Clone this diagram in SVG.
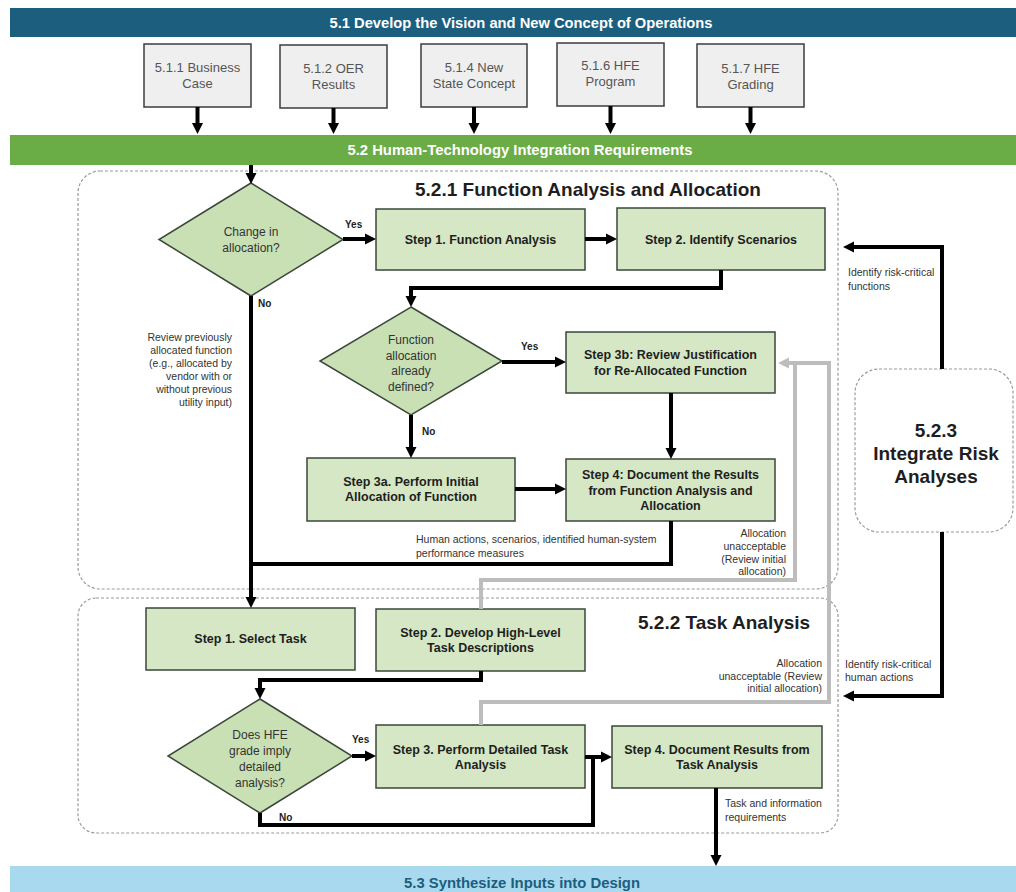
<svg xmlns="http://www.w3.org/2000/svg" width="1016" height="892" viewBox="0 0 1016 892">
<style>
.bar{font-family:"Liberation Sans",Arial,sans-serif;font-weight:bold;font-size:15px;text-anchor:middle}
.top{fill:#efefef;stroke:#3c3c3c;stroke-width:1.5}
.toptxt{font-family:"Liberation Sans",Arial,sans-serif;font-size:13px;fill:#555;text-anchor:middle}
.box{fill:#d5e7c5;stroke:#3a473a;stroke-width:1.5}
.dia{fill:#c9e0b5;stroke:#3a473a;stroke-width:1.5}
.bt{font-family:"Liberation Sans",Arial,sans-serif;font-weight:bold;font-size:12.5px;fill:#1e1e1e;text-anchor:middle}
.dt{font-family:"Liberation Sans",Arial,sans-serif;font-size:12px;fill:#333;text-anchor:middle}
.lbl{font-family:"Liberation Sans",Arial,sans-serif;font-weight:bold;font-size:10px;fill:#222}
.sm{font-family:"Liberation Sans",Arial,sans-serif;font-size:10.5px;fill:#333}
.r{text-anchor:end}
.title{font-family:"Liberation Sans",Arial,sans-serif;font-weight:bold;font-size:19px;fill:#1e1e1e}
.cont{fill:none;stroke:#9a9a9a;stroke-width:1.2;stroke-dasharray:3 2}
.k{fill:none;stroke:#000;stroke-width:4}
.g{fill:none;stroke:#bdbdbd;stroke-width:4}
</style>
<defs>
<marker id="ah" viewBox="0 0 10 10" refX="0" refY="5" markerWidth="11" markerHeight="12" markerUnits="userSpaceOnUse" orient="auto"><path d="M0,0 L10,5 L0,10 z" fill="#000"/></marker>
<marker id="ahg" viewBox="0 0 10 10" refX="0" refY="5" markerWidth="11" markerHeight="12" markerUnits="userSpaceOnUse" orient="auto"><path d="M0,0 L10,5 L0,10 z" fill="#bdbdbd"/></marker>
</defs>
<rect width="1016" height="892" fill="#fff"/>

<g id="bar51">
<rect x="10" y="8" width="1006" height="29" fill="#1b5e7e"/>
<text class="bar" x="521" y="28" fill="#fff" textLength="383" lengthAdjust="spacingAndGlyphs">5.1 Develop the Vision and New Concept of Operations</text>
</g>
<g id="n511"><rect class="top" x="144" y="44" width="107" height="63"/><text class="toptxt" x="197.5" y="72">5.1.1 Business</text><text class="toptxt" x="197.5" y="88">Case</text></g>
<g id="n512"><rect class="top" x="280" y="45" width="107" height="63"/><text class="toptxt" x="333.5" y="73">5.1.2 OER</text><text class="toptxt" x="333.5" y="89">Results</text></g>
<g id="n514"><rect class="top" x="421" y="44" width="106" height="63"/><text class="toptxt" x="474" y="72">5.1.4 New</text><text class="toptxt" x="474" y="88">State Concept</text></g>
<g id="n516"><rect class="top" x="557" y="43" width="107" height="63"/><text class="toptxt" x="610.5" y="70">5.1.6 HFE</text><text class="toptxt" x="610.5" y="86">Program</text></g>
<g id="n517"><rect class="top" x="697" y="44" width="107" height="63"/><text class="toptxt" x="750.5" y="73">5.1.7 HFE</text><text class="toptxt" x="750.5" y="89">Grading</text></g>

<g id="bar52">
<rect x="10" y="135" width="1006" height="30" fill="#6aac45"/>
<text class="bar" x="520" y="155" fill="#fff" textLength="345" lengthAdjust="spacingAndGlyphs">5.2 Human-Technology Integration Requirements</text>
</g>

<g id="c521"><rect class="cont" x="78" y="171" width="760" height="418" rx="22"/>
<text class="title" x="415" y="196">5.2.1 Function Analysis and Allocation</text></g>
<g id="c522"><rect class="cont" x="78" y="598" width="760" height="235" rx="18"/>
<text class="title" x="638" y="629">5.2.2 Task Analysis</text></g>
<g id="n523"><rect class="cont" x="855" y="369" width="158" height="163" rx="24"/>
<text class="title" x="936" y="437" text-anchor="middle">5.2.3</text>
<text class="title" x="936" y="460" text-anchor="middle">Integrate Risk</text>
<text class="title" x="936" y="483" text-anchor="middle">Analyses</text></g>

<g id="d1"><polygon class="dia" points="251,183 343,239.5 251,296 159,239.5"/><text class="dt" x="251" y="236">Change in</text><text class="dt" x="251" y="252">allocation?</text></g>
<g id="s1"><rect class="box" x="376" y="209" width="209" height="61"/><text class="bt" x="480.5" y="244">Step 1. Function Analysis</text></g>
<g id="s2"><rect class="box" x="617" y="208" width="208" height="62"/><text class="bt" x="721" y="244">Step 2. Identify Scenarios</text></g>
<g id="d2"><polygon class="dia" points="411,307 502,361 411,415 320,361"/><text class="dt" x="411" y="344">Function</text><text class="dt" x="411" y="360">allocation</text><text class="dt" x="411" y="375">already</text><text class="dt" x="411" y="391">defined?</text></g>
<g id="s3b"><rect class="box" x="566" y="332" width="209" height="61"/><text class="bt" x="670.5" y="359">Step 3b: Review Justification</text><text class="bt" x="670.5" y="375">for Re-Allocated Function</text></g>
<g id="s3a"><rect class="box" x="307" y="458" width="208" height="63"/><text class="bt" x="411" y="486">Step 3a. Perform Initial</text><text class="bt" x="411" y="501">Allocation of Function</text></g>
<g id="s4f"><rect class="box" x="566" y="459" width="209" height="62"/><text class="bt" x="670.5" y="479">Step 4: Document the Results</text><text class="bt" x="670.5" y="495">from Function Analysis and</text><text class="bt" x="670.5" y="510">Allocation</text></g>

<g id="t1"><rect class="box" x="146" y="608" width="209" height="62"/><text class="bt" x="250.5" y="643">Step 1. Select Task</text></g>
<g id="t2"><rect class="box" x="376" y="609" width="209" height="62"/><text class="bt" x="480.5" y="637">Step 2. Develop High-Level</text><text class="bt" x="480.5" y="652">Task Descriptions</text></g>
<g id="d3"><polygon class="dia" points="260,699 352,756 260,813 168,756"/><text class="dt" x="260" y="739">Does HFE</text><text class="dt" x="260" y="755">grade imply</text><text class="dt" x="260" y="771">detailed</text><text class="dt" x="260" y="787">analysis?</text></g>
<g id="t3"><rect class="box" x="376" y="725" width="209" height="63"/><text class="bt" x="480.5" y="754">Step 3. Perform Detailed Task</text><text class="bt" x="480.5" y="769">Analysis</text></g>
<g id="t4"><rect class="box" x="612" y="726" width="210" height="62"/><text class="bt" x="717" y="754">Step 4. Document Results from</text><text class="bt" x="717" y="769">Task Analysis</text></g>

<g id="bar53">
<rect x="10" y="866" width="1006" height="26" fill="#a9d9ee"/>
<text class="bar" x="522" y="888" fill="#1b5e7e" textLength="236" lengthAdjust="spacingAndGlyphs">5.3 Synthesize Inputs into Design</text>
</g>

<g id="connectors">
<path class="g" d="M481,609 V580 H795 V363"/>
<path class="g" d="M481,725 V702 H829 V363 H789" marker-end="url(#ahg)"/>
<path class="k" d="M197.5,107 V123" marker-end="url(#ah)"/>
<path class="k" d="M333.5,108 V123" marker-end="url(#ah)"/>
<path class="k" d="M474,107 V123" marker-end="url(#ah)"/>
<path class="k" d="M610.5,106 V123" marker-end="url(#ah)"/>
<path class="k" d="M750.5,107 V123" marker-end="url(#ah)"/>
<path class="k" d="M251,165 V173" marker-end="url(#ah)"/>
<path class="k" d="M343,239 H365" marker-end="url(#ah)"/>
<path class="k" d="M585,239 H606" marker-end="url(#ah)"/>
<path class="k" d="M721,270 V288 H411 V296" marker-end="url(#ah)"/>
<path class="k" d="M502,362 H555" marker-end="url(#ah)"/>
<path class="k" d="M411,415 V447" marker-end="url(#ah)"/>
<path class="k" d="M671,393 V448" marker-end="url(#ah)"/>
<path class="k" d="M515,489 H555" marker-end="url(#ah)"/>
<path class="k" d="M671,521 V564 H251"/>
<path class="k" d="M251,296 V597" marker-end="url(#ah)"/>
<path class="k" d="M481,671 V680 H260 V688" marker-end="url(#ah)"/>
<path class="k" d="M352,756 H365" marker-end="url(#ah)"/>
<path class="k" d="M585,757 H601" marker-end="url(#ah)"/>
<path class="k" d="M260,813 V825 H593 V757"/>
<path class="k" d="M716,788 V855" marker-end="url(#ah)"/>
<path class="k" d="M942,369 V247 H854" marker-end="url(#ah)"/>
<path class="k" d="M942,532 V696 H854" marker-end="url(#ah)"/>
</g>

<g id="labels">
<text class="lbl" x="345" y="228">Yes</text>
<text class="lbl" x="258" y="307">No</text>
<text class="lbl" x="521" y="350">Yes</text>
<text class="lbl" x="422" y="435">No</text>
<text class="lbl" x="352" y="743">Yes</text>
<text class="lbl" x="279" y="821">No</text>
<text class="sm r" x="232" y="341">Review previously</text>
<text class="sm r" x="232" y="354">allocated function</text>
<text class="sm r" x="232" y="367">(e.g., allocated by</text>
<text class="sm r" x="232" y="380">vendor with or</text>
<text class="sm r" x="232" y="393">without previous</text>
<text class="sm r" x="232" y="406">utility input)</text>
<text class="sm" x="416" y="543">Human actions, scenarios, identified human-system</text>
<text class="sm" x="416" y="557">performance measures</text>
<text class="sm r" x="786" y="537">Allocation</text>
<text class="sm r" x="786" y="550">unacceptable</text>
<text class="sm r" x="786" y="563">(Review initial</text>
<text class="sm r" x="786" y="575">allocation)</text>
<text class="sm r" x="822" y="667">Allocation</text>
<text class="sm r" x="822" y="680">unacceptable (Review</text>
<text class="sm r" x="822" y="692">initial allocation)</text>
<text class="sm" x="848" y="276">Identify risk-critical</text>
<text class="sm" x="848" y="290">functions</text>
<text class="sm" x="845" y="668">Identify risk-critical</text>
<text class="sm" x="845" y="681">human actions</text>
<text class="sm" x="725" y="807">Task and information</text>
<text class="sm" x="725" y="821">requirements</text>
</g>
</svg>
